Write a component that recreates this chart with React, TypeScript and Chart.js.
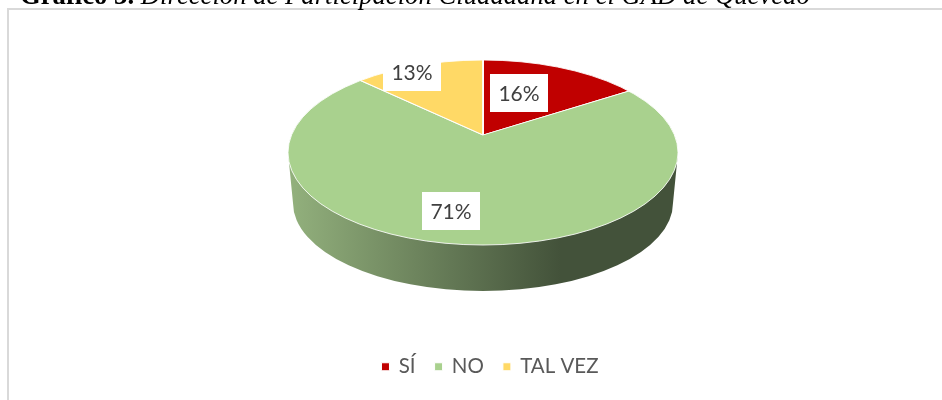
import React, { useEffect, useRef } from "react";
import { Chart, registerables } from "chart.js";

Chart.register(...registerables);

const categories = ["SÍ", "NO", "TAL VEZ"];
const shares = [16, 71, 13];
const colors = ["#C00000", "#A9D18E", "#FFD966"];

const FONT = "Lato, Carlito, 'Open Sans', sans-serif";
const TEXT = "#404040";
const APEX = { x: 483, y: 135 };
const TOP = { x: 483, y: 152.5, rx: 195, ry: 92.5 };
const BOTTOM = { x: 483, y: 203, rx: 190, ry: 88 };
const FLATTEN = 0.474;
const PIE_REACH = 300;
const LABEL_CENTERS = [
  { x: 519, y: 93 },
  { x: 451, y: 211 },
  { x: 412, y: 72 },
];
const LABEL_BOX = { w: 58, h: 38 };

const frameAndTitle = {
  id: "frameAndTitle",
  beforeDraw(chart: any) {
    const c = chart.ctx;
    c.save();
    c.fillStyle = "#ffffff";
    c.fillRect(0, 0, chart.width, chart.height);
    c.fillStyle = "#d9d9d9";
    c.fillRect(7, 8, 2, 392);
    c.fillRect(7, 8, 935, 2);
    c.fillStyle = "#000000";
    c.textBaseline = "alphabetic";
    c.textAlign = "left";
    c.font = "bold 26.7px 'Liberation Serif'";
    const lead = "Gráfico 3. ";
    c.fillText(lead, 20, 4);
    const w = c.measureText(lead).width;
    c.font = "italic 26.7px 'Liberation Serif'";
    c.fillText("Dirección de Participación Ciudadana en el GAD de Quevedo", 20 + w, 4);
    c.restore();
  },
};

const pie3d = {
  id: "pie3d",
  beforeDatasetsDraw(chart: any) {
    const c = chart.ctx;
    const arc = chart.getDatasetMeta(0).data[0];
    // side wall
    c.save();
    const grad = c.createLinearGradient(TOP.x - TOP.rx, 0, 560, 0);
    grad.addColorStop(0, "#93B17D");
    grad.addColorStop(1, "#43523A");
    c.fillStyle = grad;
    c.beginPath();
    c.moveTo(TOP.x - TOP.rx, TOP.y);
    c.lineTo(BOTTOM.x - BOTTOM.rx, BOTTOM.y);
    c.ellipse(BOTTOM.x, BOTTOM.y, BOTTOM.rx, BOTTOM.ry, 0, Math.PI, 0, true);
    c.lineTo(TOP.x + TOP.rx, TOP.y);
    c.closePath();
    c.fill();
    c.restore();
    // flattened pie face, clipped to the top ellipse
    c.save();
    c.beginPath();
    c.ellipse(TOP.x, TOP.y, TOP.rx, TOP.ry, 0, 0, Math.PI * 2);
    c.clip();
    const s = PIE_REACH / arc.outerRadius;
    c.translate(APEX.x, APEX.y);
    c.scale(s, s * FLATTEN);
    c.translate(-arc.x, -arc.y);
  },
  afterDatasetsDraw(chart: any) {
    const c = chart.ctx;
    c.restore();
    c.save();
    c.strokeStyle = "rgba(255,255,255,0.85)";
    c.lineWidth = 1;
    c.beginPath();
    c.ellipse(TOP.x, TOP.y, TOP.rx, TOP.ry, 0, 0, Math.PI * 2);
    c.stroke();
    c.restore();
  },
  afterDraw(chart: any) {
    const c = chart.ctx;
    c.save();
    c.textAlign = "center";
    c.textBaseline = "middle";
    c.font = `21px ${FONT}`;
    shares.forEach((v, i) => {
      const p = LABEL_CENTERS[i];
      c.fillStyle = "#ffffff";
      c.fillRect(p.x - LABEL_BOX.w / 2, p.y - LABEL_BOX.h / 2, LABEL_BOX.w, LABEL_BOX.h);
      c.fillStyle = TEXT;
      c.fillText(`${v}%`, p.x, p.y + 1);
    });
    c.restore();
  },
};

export default function App() {
  const ref = useRef<HTMLCanvasElement | null>(null);
  useEffect(() => {
    document.body.style.margin = "0";
    const chart = new Chart(ref.current as HTMLCanvasElement, {
      type: "pie",
      data: {
        labels: categories,
        datasets: [
          {
            data: shares,
            backgroundColor: colors,
            borderColor: "#ffffff",
            borderWidth: 1,
            clip: false,
          } as any,
        ],
      },
      options: {
        responsive: false,
        animation: false,
        layout: { padding: { bottom: 13, left: 39 } },
        plugins: {
          tooltip: { enabled: false },
          legend: {
            position: "bottom",
            labels: {
              usePointStyle: true,
              pointStyle: "rect",
              boxWidth: 6,
              boxHeight: 8,
              padding: 20,
              color: "#595959",
              font: { family: FONT, size: 20.5 },
            },
          },
        },
      },
      plugins: [frameAndTitle, pie3d],
    } as any);
    return () => chart.destroy();
  }, []);
  return <canvas ref={ref} width={942} height={400} style={{ display: "block", width: 942, height: 400 }} />;
}
